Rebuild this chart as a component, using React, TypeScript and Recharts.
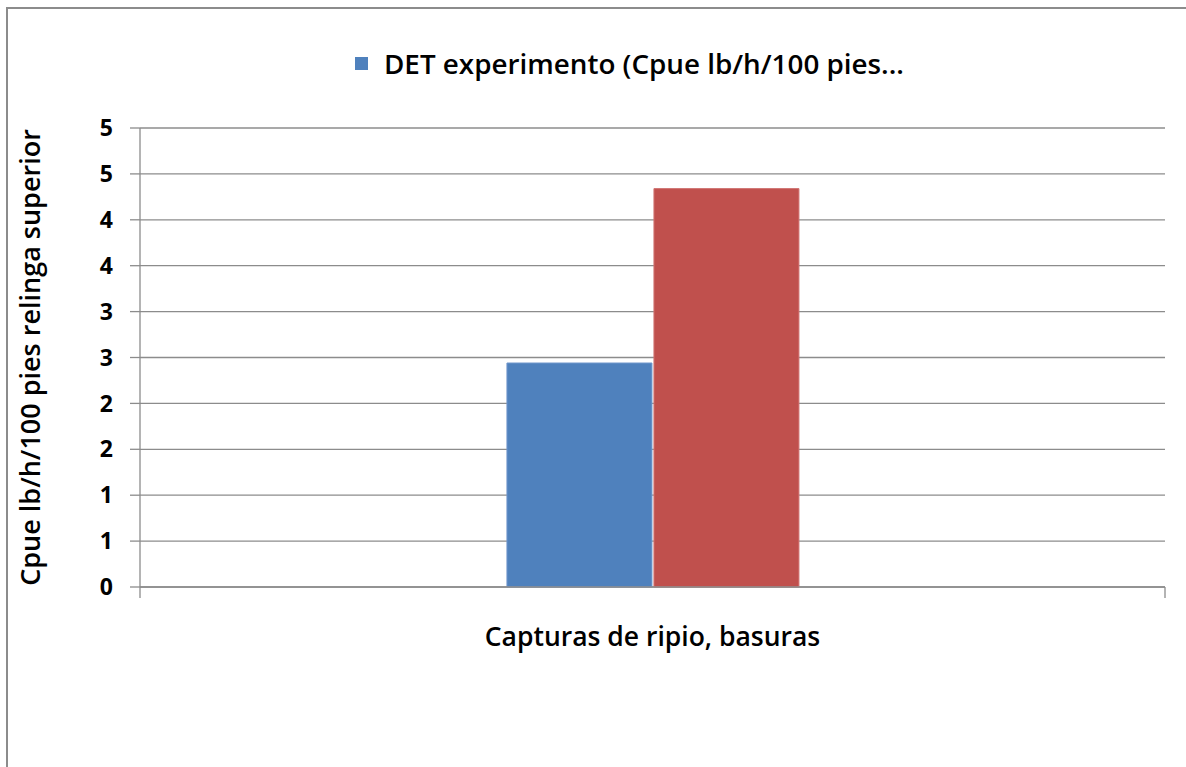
import {
  BarChart,
  Bar,
  XAxis,
  YAxis,
  CartesianGrid,
  Legend,
  Label,
} from 'recharts';

const categories = ['Capturas de ripio, basuras'];
const detValues = [2.44];
const controlValues = [4.34];
const yTicks = [0, 0.5, 1, 1.5, 2, 2.5, 3, 3.5, 4, 4.5, 5];
const yTickLabels = ['0', '1', '1', '2', '2', '3', '3', '4', '4', '5', '5'];
const legendLabel = 'DET experimento (Cpue lb/h/100 pies...';
const yAxisTitle = 'Cpue lb/h/100 pies relinga superior';

const data = categories.map((name, i) => ({
  name,
  det: detValues[i],
  control: controlValues[i],
}));

const FONT = '"Open Sans", sans-serif';
const GRID = '#8c8c8c';
const X_TICK_SIZE = 6;
const X_TICK_MARGIN = 34;

function LegendBox() {
  return (
    <div style={{ height: 40, position: 'relative', fontFamily: FONT }}>
      <div
        style={{
          position: 'absolute',
          left: 347,
          top: 14,
          width: 13,
          height: 13,
          background: '#4F81BD',
        }}
      />
      <div
        style={{
          position: 'absolute',
          left: 376,
          top: 0,
          lineHeight: '40px',
          fontSize: 27.8,
          fontWeight: 600,
          color: '#000',
          whiteSpace: 'nowrap',
        }}
      >
        {legendLabel}
      </div>
    </div>
  );
}

// category label plus the little marks at both ends of the band (Excel style)
function CategoryTick(props: any) {
  const { x, y, payload, width, index, visibleTicksCount } = props;
  const half = payload && payload.offset ? payload.offset : width / 2;
  const axisY = y - X_TICK_SIZE - X_TICK_MARGIN;
  return (
    <g>
      {index === 0 && (
        <line x1={x - half} x2={x - half} y1={axisY} y2={axisY + 11} stroke={GRID} strokeWidth={1.3} />
      )}
      {index === visibleTicksCount - 1 && (
        <line x1={x + half} x2={x + half} y1={axisY} y2={axisY + 11} stroke={GRID} strokeWidth={1.3} />
      )}
      <text
        x={x}
        y={y}
        dy="0.71em"
        textAnchor="middle"
        fontSize={26.5}
        fontWeight={600}
        fill="#000"
        fontFamily={FONT}
      >
        {payload.value}
      </text>
    </g>
  );
}

export default function App() {
  return (
    <div
      style={{
        position: 'absolute',
        left: 6,
        top: 7,
        width: 1180,
        height: 760,
        borderLeft: `2px solid ${GRID}`,
        borderTop: `2px solid ${GRID}`,
        background: '#fff',
      }}
    >
      <BarChart
        width={1178}
        height={758}
        data={data}
        margin={{ top: 79, right: 21, bottom: 100, left: 12 }}
        barCategoryGap="35.8%"
        barGap={2}
      >
        <CartesianGrid vertical={false} stroke={GRID} strokeWidth={1.3} />
        <Legend
          verticalAlign="top"
          content={() => <LegendBox />}
          wrapperStyle={{ top: 34, left: 0, width: 1178 }}
        />
        <XAxis
          dataKey="name"
          height={80}
          axisLine={{ stroke: GRID, strokeWidth: 1.3 }}
          tickLine={false}
          tickSize={X_TICK_SIZE}
          tickMargin={X_TICK_MARGIN}
          tick={<CategoryTick />}
        />
        <YAxis
          domain={[0, 5]}
          ticks={yTicks}
          interval={0}
          width={120}
          tickSize={10}
          tickMargin={17}
          tickFormatter={(v: number) => yTickLabels[yTicks.indexOf(v)]}
          axisLine={{ stroke: GRID, strokeWidth: 1.3 }}
          tickLine={{ stroke: GRID, strokeWidth: 1.3 }}
          tick={{
            fontSize: 23,
            fontWeight: 700,
            fill: '#000',
            fontFamily: FONT,
          }}
        >
          <Label
            value={yAxisTitle}
            angle={-90}
            position="insideLeft"
            offset={10}
            style={{
              textAnchor: 'middle',
              fontSize: 27,
              fontWeight: 600,
              fill: '#000',
              fontFamily: FONT,
            }}
          />
        </YAxis>
        <Bar
          dataKey="det"
          name={legendLabel}
          fill="#4F81BD"
          stroke="#7097cc"
          strokeWidth={1}
          isAnimationActive={false}
        />
        <Bar
          dataKey="control"
          name="Control (Cpue lb/h/100 pies relinga superior)"
          fill="#C0504D"
          stroke="#d07573"
          strokeWidth={1}
          isAnimationActive={false}
        />
      </BarChart>
    </div>
  );
}
